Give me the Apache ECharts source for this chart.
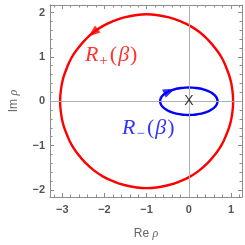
<!DOCTYPE html>
<html>
<head>
<meta charset="utf-8">
<script src="https://cdn.jsdelivr.net/npm/echarts@6/dist/echarts.min.js"></script>
<style>html,body{margin:0;padding:0;background:#fff;}#c{width:245px;height:245px;}</style>
</head>
<body>
<div id="c"></div>
<script>
// ---- data ----
const xRange = [-3.29, 1.26];
const yRange = [-2.16, 2.17];
const xTicks = [-3, -2, -1, 0, 1];
const yTicks = [-2, -1, 0, 1, 2];
const xMinor = [-3.2,-2.8,-2.6,-2.4,-2.2,-1.8,-1.6,-1.4,-1.2,-0.8,-0.6,-0.4,-0.2,0.2,0.4,0.6,0.8,1.2];
const yMinor = [-1.8,-1.6,-1.4,-1.2,-0.8,-0.6,-0.4,-0.2,0.2,0.4,0.6,0.8,1.2,1.4,1.6,1.8];
const redCurve = [[1.05,0],[1.03,0.26],[0.98,0.51],[0.89,0.75],[0.78,0.98],[0.63,1.19],[0.45,1.39],[0.25,1.56],[0.03,1.70],[-0.22,1.81],[-0.47,1.89],[-0.73,1.94],[-1,1.96],[-1.27,1.94],[-1.53,1.89],[-1.78,1.81],[-2.03,1.70],[-2.25,1.56],[-2.45,1.39],[-2.63,1.19],[-2.78,0.98],[-2.89,0.75],[-2.98,0.51],[-3.03,0.26],[-3.05,0],[-3.03,-0.26],[-2.98,-0.51],[-2.89,-0.75],[-2.78,-0.98],[-2.63,-1.19],[-2.45,-1.39],[-2.25,-1.56],[-2.03,-1.70],[-1.78,-1.81],[-1.53,-1.89],[-1.27,-1.94],[-1,-1.96],[-0.73,-1.94],[-0.47,-1.89],[-0.22,-1.81],[0.03,-1.70],[0.25,-1.56],[0.45,-1.39],[0.63,-1.19],[0.78,-0.98],[0.89,-0.75],[0.98,-0.51],[1.03,-0.26],[1.05,0],[1.03,0.26]];
const blueCurve = [[0.68,0],[0.674,0.04],[0.657,0.08],[0.628,0.119],[0.589,0.155],[0.54,0.189],[0.481,0.219],[0.414,0.246],[0.34,0.268],[0.26,0.286],[0.176,0.299],[0.089,0.307],[0,0.31],[-0.089,0.307],[-0.176,0.299],[-0.26,0.286],[-0.34,0.268],[-0.414,0.246],[-0.481,0.219],[-0.54,0.189],[-0.589,0.155],[-0.628,0.119],[-0.657,0.08],[-0.674,0.04],[-0.68,0],[-0.674,-0.04],[-0.657,-0.08],[-0.628,-0.119],[-0.589,-0.155],[-0.54,-0.189],[-0.481,-0.219],[-0.414,-0.246],[-0.34,-0.268],[-0.26,-0.286],[-0.176,-0.299],[-0.089,-0.307],[0,-0.31],[0.089,-0.307],[0.176,-0.299],[0.26,-0.286],[0.34,-0.268],[0.414,-0.246],[0.481,-0.219],[0.54,-0.189],[0.589,-0.155],[0.628,-0.119],[0.657,-0.08],[0.674,-0.04],[0.68,0],[0.674,0.04]];
const redArrow = [-2.27, 1.545, 128];
const blueArrow = [-0.46, 0.228, -66];
const redLabelPos = [-1.84, 1.04];
const blueLabelPos = [-0.96, -0.62];
const centerMark = [0, 0];
// ------------------------------------

const frameColor = '#8c8c8c';
const tickFont = {color:'#555', fontSize:11, fontWeight:'bold', fontFamily:'Liberation Sans, Arial, sans-serif'};
const fmt = v => v < 0 ? '\u2212' + Math.abs(v) : String(v);

function nameStyle() {
  return {rich:{n:{color:'#666', fontSize:12, fontFamily:'Liberation Sans, Arial, sans-serif'}, g:{color:'#666', fontSize:12, fontStyle:'italic', fontFamily:'Liberation Serif, serif'}}};
}
function xAx(pos, major, labels) {
  return {
    type:'value', min:xRange[0], max:xRange[1], position:pos,
    axisLine:{show:major, onZero:false, lineStyle:{color:frameColor, width:1}},
    axisTick:{show:true, inside:true, length: major ? 4 : 2.5, customValues: major ? xTicks : xMinor, lineStyle:{color:frameColor}},
    axisLabel: labels ? Object.assign({show:true, customValues:xTicks, formatter:fmt, margin:7}, tickFont) : {show:false},
    splitLine:{show:false},
    name: labels ? '{n|Re }{g|ρ}' : '',
    nameLocation:'middle', nameGap:31,
    nameTextStyle:nameStyle()
  };
}
function yAx(pos, major, labels) {
  return {
    type:'value', min:yRange[0], max:yRange[1], position:pos,
    axisLine:{show:major, onZero:false, lineStyle:{color:frameColor, width:1}},
    axisTick:{show:true, inside:true, length: major ? 4 : 2.5, customValues: major ? yTicks : yMinor, lineStyle:{color:frameColor}},
    axisLabel: labels ? Object.assign({show:true, customValues:yTicks, formatter:fmt, margin:5}, tickFont) : {show:false},
    splitLine:{show:false},
    name: labels ? '{n|Im }{g|ρ}' : '',
    nameLocation:'middle', nameGap:30, nameRotate:90,
    nameTextStyle:nameStyle()
  };
}

function richLabel(color, sub) {
  const serif = 'Liberation Serif, Times New Roman, serif';
  return {
    show:true, position:'inside',
    formatter:'{r|R}{s|' + sub + '}{p|(}{b|β}{p|)}',
    rich:{
      r:{fontFamily:serif, fontStyle:'italic', fontSize:22, color:color, lineHeight:26, verticalAlign:'middle'},
      s:{fontFamily:serif, fontSize:15, color:color, lineHeight:7, verticalAlign:'bottom', padding:[0,2,0,1]},
      p:{fontFamily:serif, fontSize:22, color:color, lineHeight:26, verticalAlign:'middle'},
      b:{fontFamily:serif, fontStyle:'italic', fontSize:22, color:color, lineHeight:26, verticalAlign:'middle', padding:[0,1,0,1]}
    }
  };
}

const chart = echarts.init(document.getElementById('c'), null, {renderer:'canvas'});
chart.setOption({
  animation:false,
  backgroundColor:'#fff',
  grid:{left:50, right:3, top:5, bottom:48, containLabel:false},
  xAxis:[xAx('bottom', true, true), xAx('bottom', false, false), xAx('top', true, false), xAx('top', false, false)],
  yAxis:[yAx('left', true, true), yAx('left', false, false), yAx('right', true, false), yAx('right', false, false)],
  series:[
    {type:'line', data:[centerMark], symbol:'none', z:1, silent:true,
     markLine:{silent:true, symbol:'none', label:{show:false}, lineStyle:{color:'#b0b0b0', width:1, type:'solid'},
       data:[{xAxis:0},{yAxis:0}]}},
    {type:'line', data:redCurve, smooth:0.5, showSymbol:false, symbol:'none', z:3,
     lineStyle:{color:'#ff0000', width:2.4}},
    {type:'line', data:blueCurve, smooth:0.5, showSymbol:false, symbol:'none', z:3,
     lineStyle:{color:'#0000ff', width:2.4}},
    {type:'scatter', z:4, symbol:'triangle', symbolSize:[9,12],
     data:[{value:[redArrow[0],redArrow[1]], symbolRotate:redArrow[2], itemStyle:{color:'#ff0000'}},
           {value:[blueArrow[0],blueArrow[1]], symbolRotate:blueArrow[2], itemStyle:{color:'#0000ff'}}]},
    {type:'scatter', z:5, symbolSize:1, itemStyle:{color:'rgba(0,0,0,0)'},
     data:[{value:redLabelPos, label:richLabel('#ff0000','+')},
           {value:blueLabelPos, label:richLabel('#0000ff','\u2212')},
           {value:centerMark, label:{show:true, position:'inside', formatter:'X', color:'#000', fontSize:14, fontFamily:'Liberation Sans, Arial, sans-serif'}}]}
  ]
});
</script>
</body>
</html>
